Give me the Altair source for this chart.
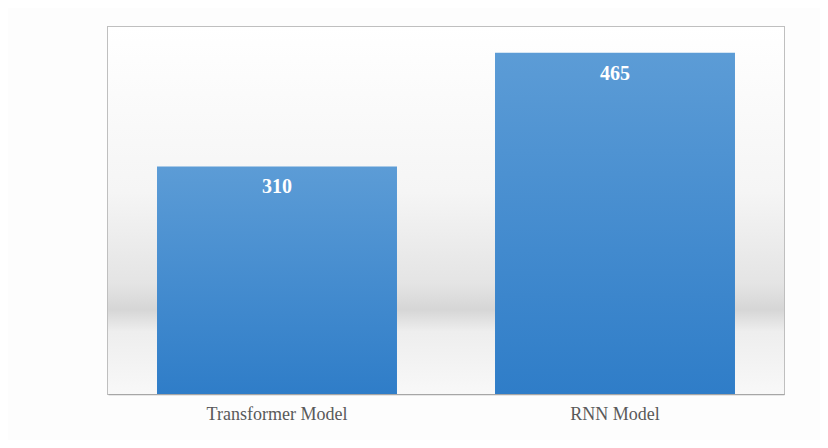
import altair as alt
import pandas as pd

models = ["Transformer Model", "RNN Model"]
values = [310, 465]

df = pd.DataFrame({"model": models, "value": values})

W, H = 676, 367

xenc = alt.X("model:N", sort=models,
             scale=alt.Scale(paddingInner=0.29, paddingOuter=0.145),
             axis=alt.Axis(title=None, labelAngle=0, ticks=False, labelPadding=11,
                           labelFont="Liberation Serif", labelFontSize=18,
                           labelColor="#595959", domainColor="#a6a6a6", domainWidth=1.5))
yscale = alt.Scale(domain=[0, 500])

bg = alt.Chart(pd.DataFrame({"a": [0]})).mark_rect(
    color=alt.Gradient(gradient="linear", x1=0, x2=0, y1=0, y2=1, stops=[
        alt.GradientStop(offset=0, color="#ffffff"),
        alt.GradientStop(offset=0.45, color="#f5f5f5"),
        alt.GradientStop(offset=0.70, color="#e4e4e4"),
        alt.GradientStop(offset=0.77, color="#d6d6d6"),
        alt.GradientStop(offset=0.83, color="#eeeeee"),
        alt.GradientStop(offset=1, color="#f8f8f8"),
    ])
).encode(x=alt.value(0), x2=alt.value(W), y=alt.value(0), y2=alt.value(H))

bars = alt.Chart(df).mark_bar(
    color=alt.Gradient(gradient="linear", x1=0, x2=0, y1=0, y2=1, stops=[
        alt.GradientStop(offset=0, color="#5c9cd6"),
        alt.GradientStop(offset=1, color="#2f7dc8"),
    ])
).encode(x=xenc, y=alt.Y("value:Q", scale=yscale, axis=None))

labels = alt.Chart(df).mark_text(
    color="white", font="Liberation Serif", fontSize=20, fontWeight="bold",
    baseline="middle", dy=21
).encode(x=alt.X("model:N", sort=models), y=alt.Y("value:Q", scale=yscale), text="value:Q")

chart = alt.layer(bg, bars, labels).properties(
    width=W, height=H,
    autosize=alt.AutoSizeParams(type="none"),
    padding={"left": 100, "top": 19, "right": 36, "bottom": 46},
    background="#fdfdfd"
).configure_view(stroke="#bfbfbf", strokeWidth=2)

chart.save("out.html", embed_options={"renderer": "svg", "actions": False})
